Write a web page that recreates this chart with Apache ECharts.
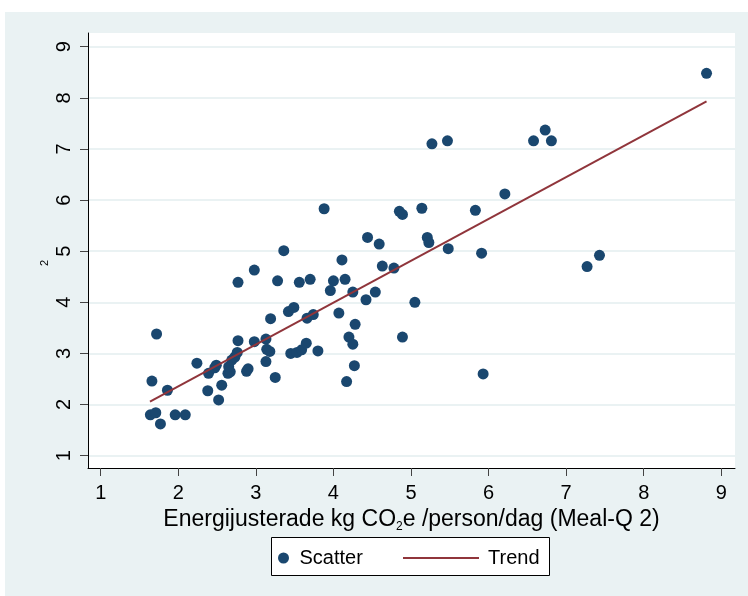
<!DOCTYPE html>
<html>
<head>
<meta charset="utf-8">
<script src="https://cdn.jsdelivr.net/npm/echarts@6/dist/echarts.min.js"></script>
<style>
  html, body { margin: 0; padding: 0; background: #fff; }
  #chart { width: 748px; height: 596px; }
</style>
</head>
<body>
<div id="chart"></div>
<script>
// Energy-adjusted kg CO2e per person per day (x) against the second measure (y)
const scatterX = [
  1.66, 1.72, 1.86, 1.64, 1.71, 1.77, 1.96, 2.09, 2.24, 2.38,
  2.39, 2.47, 2.49, 2.52, 2.56, 2.64, 2.67, 2.65, 2.69, 2.73,
  2.76, 2.77, 2.77, 2.98, 2.88, 2.90, 2.98, 3.13, 3.14, 3.18,
  3.13, 3.25, 3.19, 3.28, 3.36, 3.42, 3.49, 3.45, 3.53, 3.59,
  3.65, 3.56, 3.70, 3.80, 3.66, 3.74, 3.88, 3.96, 4.00, 4.15,
  4.11, 4.07, 4.17, 4.20, 4.25, 4.27, 4.28, 4.25, 4.42, 4.54,
  4.44, 4.59, 4.63, 4.78, 4.85, 4.89, 4.89, 5.05, 5.14, 5.21,
  5.23, 5.27, 5.47, 5.48, 5.83, 5.91, 5.93, 6.21, 6.58, 6.73,
  6.81, 7.27, 7.43, 8.81
];
const scatterY = [
  2.46, 3.38, 2.28, 1.80, 1.84, 1.62, 1.80, 1.80, 2.81, 2.27,
  2.61, 2.72, 2.77, 2.09, 2.38, 2.61, 2.64, 2.74, 2.87, 2.93,
  3.02, 3.25, 4.39, 4.63, 2.65, 2.70, 3.23, 3.28, 3.08, 3.04,
  2.84, 2.53, 3.68, 4.42, 5.01, 3.82, 3.90, 3.00, 3.02, 3.07,
  3.20, 4.39, 4.45, 3.05, 3.69, 3.76, 5.83, 4.23, 4.42, 4.45,
  4.83, 3.79, 2.45, 3.32, 3.18, 2.76, 3.57, 4.20, 4.05, 4.20,
  5.27, 5.14, 4.71, 4.67, 5.78, 5.72, 3.32, 4.00, 5.84, 5.27,
  5.17, 7.10, 7.16, 5.05, 5.80, 4.96, 2.60, 6.12, 7.16, 7.37,
  7.16, 4.70, 4.92, 8.48
];

// Fitted linear trend, end points
const trendX = [1.635, 8.81];
const trendY = [2.057, 7.93];

// Axis ranges and tick labels
const xRange = [0.836, 9.177];
const yRange = [0.759, 9.268];
const xTicks = [1, 2, 3, 4, 5, 6, 7, 8, 9];
const yTicks = [1, 2, 3, 4, 5, 6, 7, 8, 9];

const FONT = '"Liberation Sans", Arial, sans-serif';
const NAVY = '#1a476f';
const MAROON = '#90353b';
const PANEL = '#eaf2f3';

const scatterData = scatterX.map((x, i) => [x, scatterY[i]]);
const trendData = trendX.map((x, i) => [x, trendY[i]]);

const chart = echarts.init(document.getElementById('chart'), null, { renderer: 'canvas' });

chart.setOption({
  backgroundColor: '#ffffff',
  animation: false,
  textStyle: { fontFamily: FONT },
  graphic: [
    {
      type: 'rect', z: -100, silent: true,
      shape: { x: 5, y: 12, width: 743, height: 584 },
      style: { fill: PANEL }
    },
    {
      type: 'rect', z: 0, silent: true,
      shape: { x: 271.5, y: 537.5, width: 278, height: 38 },
      style: { fill: '#ffffff', stroke: '#000000', lineWidth: 1 }
    },
    {
      type: 'text', silent: true,
      x: 45, y: 263, rotation: Math.PI / 2,
      style: {
        text: '2', fontSize: 11, fontFamily: FONT, fill: '#000',
        align: 'center', verticalAlign: 'middle'
      }
    }
  ],
  grid: {
    left: 88, right: 13, top: 33, bottom: 128,
    show: true, backgroundColor: '#ffffff', borderWidth: 0,
    containLabel: false, outerBoundsMode: 'none'
  },
  legend: [
    {
      left: 273, top: 543, orient: 'horizontal',
      itemWidth: 22, itemHeight: 11,
      data: [{ name: 'Scatter', icon: 'circle' }],
      textStyle: { fontSize: 20, fontFamily: FONT, color: '#000', lineHeight: 20 }
    },
    {
      left: 398, top: 543, orient: 'horizontal',
      itemWidth: 76, itemHeight: 2,
      data: [{ name: 'Trend', icon: 'rect' }],
      textStyle: { fontSize: 20, fontFamily: FONT, color: '#000', lineHeight: 20, padding: [0, 0, 0, 4] }
    }
  ],
  xAxis: {
    type: 'value',
    min: xRange[0], max: xRange[1],
    name: '{t|Energijusterade kg CO}{s|2}{t|e /person/dag (Meal-Q 2)}',
    nameLocation: 'middle',
    nameGap: 30,
    nameTextStyle: {
      rich: {
        t: { fontSize: 23, fontFamily: FONT, color: '#000', lineHeight: 26 },
        s: { fontSize: 12, fontFamily: FONT, color: '#000', lineHeight: 12, verticalAlign: 'bottom' }
      }
    },
    axisLine: { show: true, onZero: false, lineStyle: { color: '#000', width: 1 } },
    axisTick: { show: true, length: 8, customValues: xTicks, lineStyle: { color: '#444', width: 1 } },
    axisLabel: { customValues: xTicks, margin: 15, fontSize: 20, fontFamily: FONT, color: '#000' },
    splitLine: { show: false }
  },
  yAxis: {
    type: 'value',
    min: yRange[0], max: yRange[1],
    axisLine: { show: true, onZero: false, lineStyle: { color: '#000', width: 1 } },
    axisTick: { show: true, length: 8, customValues: yTicks, lineStyle: { color: '#444', width: 1 } },
    axisLabel: { customValues: yTicks, rotate: 90, margin: 14, fontSize: 20, fontFamily: FONT, color: '#000' },
    splitLine: { show: true, lineStyle: { color: PANEL, width: 2 } }
  },
  series: [
    {
      name: 'Scatter',
      type: 'scatter',
      data: scatterData,
      symbol: 'circle',
      symbolSize: 11,
      itemStyle: { color: NAVY, opacity: 1 },
      z: 3
    },
    {
      name: 'Trend',
      type: 'line',
      data: trendData,
      showSymbol: false,
      symbol: 'none',
      lineStyle: { color: MAROON, width: 2 },
      itemStyle: { color: MAROON },
      z: 4
    }
  ]
});
</script>
</body>
</html>
